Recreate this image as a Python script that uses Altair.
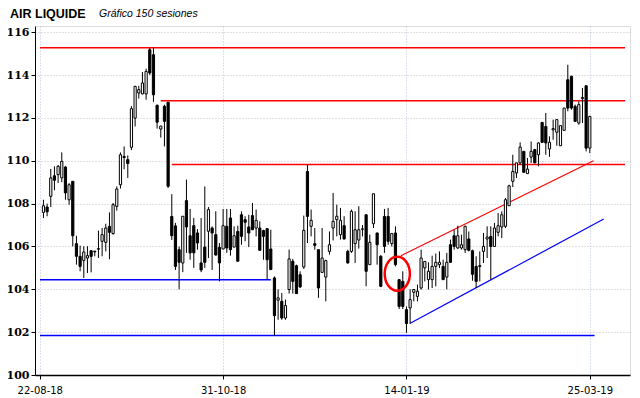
import altair as alt
import pandas as pd

# ---- OHLC (150 sessions) ----
opens = [107.59, 107.84, 108.34, 109.30, 109.35, 109.20, 109.71, 108.18, 109.04, 106.13,
         105.54, 105.35, 105.46, 105.80, 105.78, 105.87, 106.24, 106.19, 106.94, 106.60,
         107.87, 108.88, 110.20, 110.05, 110.63, 111.99, 113.16, 113.12, 113.12, 115.18,
         114.95, 112.59, 111.48, 112.54, 112.73, 107.40, 106.96, 105.85, 105.23, 108.14,
         106.50, 106.97, 106.63, 105.23, 105.97, 106.71, 106.86, 106.55, 105.96, 105.88,
         106.94, 107.33, 105.97, 106.70, 107.48, 107.25, 106.91, 107.44, 106.86, 106.86,
         106.74, 106.83, 105.88, 104.53, 103.49, 103.44, 102.66, 103.99, 105.31, 105.10,
         104.68, 105.04, 109.50, 106.94, 106.13, 105.85, 104.79, 104.57, 105.77, 106.86,
         107.25, 106.55, 106.97, 105.77, 105.77, 106.13, 106.30, 106.80, 107.48, 105.15,
         107.06, 106.63, 105.54, 107.40, 107.40, 106.13, 106.63, 104.45, 104.37, 103.05,
         103.13, 103.86, 103.67, 104.06, 105.00, 104.45, 104.45, 105.07, 105.15, 105.07,
         104.57, 106.08, 106.50, 105.93, 105.93, 105.85, 106.35, 105.80, 105.07, 105.10,
         105.77, 106.35, 106.47, 106.00, 106.66, 106.91, 106.94, 107.90, 109.04, 109.43,
         109.90, 110.44, 109.40, 110.17, 110.52, 110.28, 111.79, 111.60, 110.55, 111.44,
         111.33, 110.70, 111.42, 113.78, 113.94, 112.54, 111.76, 112.90, 113.50, 110.59]
highs = [108.18, 108.00, 109.62, 109.74, 109.80, 110.39, 109.74, 108.96, 109.04, 106.50,
         106.04, 106.01, 106.01, 105.82, 105.78, 106.74, 106.86, 107.06, 107.59, 108.03,
         108.80, 110.39, 110.67, 110.25, 112.55, 113.50, 113.50, 114.14, 114.30, 115.26,
         115.30, 112.62, 111.63, 112.62, 112.73, 108.44, 107.10, 106.00, 107.41, 109.12,
         107.75, 107.33, 106.81, 107.33, 108.80, 107.84, 106.94, 107.64, 106.16, 107.75,
         107.75, 107.75, 106.94, 106.97, 107.64, 107.41, 107.48, 108.03, 107.72, 107.17,
         106.78, 106.83, 106.78, 104.60, 104.00, 103.83, 103.52, 105.85, 105.42, 105.15,
         104.84, 107.44, 109.82, 107.72, 106.86, 105.85, 106.86, 105.38, 106.70, 108.50,
         107.95, 107.80, 107.41, 105.85, 107.72, 107.64, 107.88, 107.00, 107.48, 106.55,
         108.46, 106.63, 105.60, 107.75, 107.80, 106.63, 106.94, 104.45, 104.84, 103.20,
         104.00, 104.00, 104.22, 105.85, 105.30, 105.26, 105.57, 105.67, 105.77, 105.38,
         105.70, 106.32, 106.78, 106.97, 106.55, 106.97, 106.70, 105.85, 105.54, 105.77,
         106.63, 106.94, 106.94, 107.10, 107.56, 107.64, 108.26, 108.88, 110.28, 109.90,
         110.86, 110.44, 110.13, 110.90, 110.55, 110.86, 111.79, 112.23, 111.14, 111.92,
         111.92, 111.64, 112.46, 114.48, 113.97, 112.62, 112.77, 113.40, 113.50, 112.10]
lows = [107.33, 107.41, 107.84, 108.62, 108.96, 109.00, 108.18, 107.95, 106.00, 105.15,
        104.84, 104.53, 104.76, 104.79, 105.54, 105.46, 105.54, 105.77, 105.40, 106.55,
        107.67, 108.70, 109.60, 109.20, 110.50, 111.60, 112.90, 113.10, 112.85, 114.00,
        112.75, 111.50, 111.08, 110.67, 108.73, 106.30, 104.90, 104.00, 104.80, 105.70,
        105.38, 105.00, 105.85, 104.80, 105.00, 105.46, 104.90, 105.57, 104.37, 105.88,
        105.70, 105.57, 105.97, 105.31, 106.08, 106.24, 105.97, 106.78, 106.47, 105.82,
        105.38, 104.45, 104.92, 101.84, 102.58, 102.58, 102.58, 103.80, 103.80, 103.80,
        104.06, 104.95, 106.16, 106.47, 105.85, 103.60, 104.79, 103.44, 105.62, 106.28,
        106.47, 106.32, 106.32, 105.20, 105.70, 105.23, 105.90, 106.47, 104.14, 105.15,
        106.86, 105.15, 104.10, 105.70, 106.08, 106.00, 105.07, 103.08, 103.08, 101.97,
        102.40, 103.44, 103.44, 103.99, 104.37, 103.99, 104.06, 104.14, 104.99, 104.45,
        104.00, 105.23, 105.85, 105.88, 105.85, 105.70, 105.77, 104.40, 104.06, 104.37,
        105.23, 105.46, 104.45, 106.00, 106.47, 106.39, 106.86, 107.90, 108.77, 109.20,
        109.82, 109.46, 109.40, 109.90, 109.90, 109.74, 110.83, 110.28, 110.18, 110.98,
        110.70, 110.70, 111.42, 112.31, 112.38, 111.84, 111.68, 111.76, 110.44, 110.36]
closes = [107.90, 107.62, 109.20, 109.09, 109.74, 109.97, 108.50, 108.88, 106.50, 105.54,
          105.07, 105.74, 105.57, 105.54, 105.75, 105.90, 106.55, 106.86, 106.66, 107.95,
          108.68, 110.28, 110.15, 109.87, 112.43, 113.47, 113.32, 113.63, 114.17, 114.10,
          113.08, 111.80, 111.62, 111.84, 108.81, 106.50, 105.07, 105.26, 107.41, 106.91,
          105.70, 105.70, 106.16, 104.90, 105.26, 107.72, 106.63, 105.60, 105.23, 106.97,
          105.93, 105.85, 106.50, 105.31, 106.47, 107.13, 106.63, 106.78, 107.22, 105.82,
          106.47, 105.38, 104.92, 102.77, 103.60, 102.66, 103.24, 105.42, 104.37, 103.80,
          104.11, 106.75, 107.40, 107.22, 106.05, 104.06, 105.46, 105.34, 106.08, 107.17,
          107.41, 107.22, 106.35, 105.23, 107.64, 106.78, 106.78, 106.82, 104.84, 106.19,
          108.46, 106.08, 104.14, 106.00, 106.24, 106.60, 105.15, 103.20, 103.20, 102.40,
          103.52, 103.99, 103.91, 105.46, 105.30, 104.84, 105.07, 105.26, 105.26, 104.45,
          105.26, 105.26, 106.00, 106.50, 106.08, 106.94, 105.82, 104.70, 104.37, 105.07,
          106.00, 106.44, 106.00, 106.86, 106.97, 107.48, 108.18, 108.83, 109.50, 109.90,
          110.64, 109.46, 109.61, 110.44, 109.90, 110.83, 110.86, 110.83, 110.86, 111.50,
          111.92, 111.64, 112.46, 112.46, 112.46, 111.84, 112.62, 112.95, 110.59, 112.07]

# ---- axis labels ----
date_pos = [-1, 49, 99, 149]
date_labels = ["22-08-18", "31-10-18", "14-01-19", "25-03-19"]

# ---- horizontal support / resistance lines ----
lvl_price = [115.28, 112.80, 109.82, 104.45, 101.84]
lvl_start = [-0.94, 32.0, 35.0, -0.94, -0.94]
lvl_end = [158.6, 158.6, 158.6, 62.0, 150.3]
lvl_color = ["#ff0000", "#ff0000", "#ff0000", "#0000ff", "#0000ff"]

# ---- trend channel ----
tr_x1 = [97.5, 99.9]
tr_y1 = [105.57, 102.40]
tr_x2 = [150.0, 152.8]
tr_y2 = [110.00, 107.28]
tr_color = ["#ff0000", "#0000ff"]

# ---- highlight ellipse ----
circ_x = [96.5]
circ_y = [104.73]

XDOM = [-0.94, 158.6]
YDOM = [100, 116.29]

df = pd.DataFrame({"idx": list(range(len(opens))), "open": opens, "high": highs,
                   "low": lows, "close": closes})
lv = pd.DataFrame({"p": lvl_price, "s": lvl_start, "e": lvl_end, "c": lvl_color})
tr = pd.DataFrame({"x1": tr_x1, "y1": tr_y1, "x2": tr_x2, "y2": tr_y2, "c": tr_color})
ci = pd.DataFrame({"x": circ_x, "y": circ_y})

label_expr = " : ".join(
    f"datum.value == {p} ? '{l}'" for p, l in zip(date_pos, date_labels)) + " : ''"

xscale = alt.Scale(domain=XDOM, nice=False, zero=False)
yscale = alt.Scale(domain=YDOM, nice=False, zero=False)

yvals = [100 + 0.5 * k for k in range(33)]

xaxis = alt.Axis(values=date_pos, labelExpr=label_expr, title=None, grid=True,
                 gridDash=[1, 2], gridColor="#b4c4dc", domainColor="black",
                 domainWidth=1.5, tickColor="black", tickSize=4, labelPadding=6,
                 labelFont="DejaVu Sans", labelFontSize=10, labelColor="black")
yaxis = alt.Axis(values=yvals, title=None, grid=True, gridDash=[1, 2],
                 gridColor="#c8bccc",
                 gridOpacity={"condition": {"test": "datum.value % 2 == 0 && datum.value > 100",
                                            "value": 1}, "value": 0},
                 tickSize={"condition": {"test": "datum.value % 2 == 0", "value": 4},
                           "value": 2},
                 labelExpr="datum.value % 2 == 0 ? format(datum.value, 'd') : ''",
                 domainColor="black", tickColor="black", labelPadding=2,
                 labelFont="DejaVu Serif", labelFontWeight="bold", labelFontSize=11,
                 labelColor="black")

wicks = alt.Chart(df).mark_rule(color="black", strokeWidth=1).encode(
    x=alt.X("idx:Q", scale=xscale, axis=xaxis),
    y=alt.Y("low:Q", scale=yscale, axis=yaxis),
    y2="high:Q",
)

bodies = alt.Chart(df).mark_bar(size=2.2, stroke="black", strokeWidth=1).encode(
    x=alt.X("idx:Q", scale=xscale),
    y=alt.Y("open:Q", scale=yscale),
    y2="close:Q",
    fill=alt.condition("datum.close >= datum.open", alt.value("white"), alt.value("black")),
)

levels = alt.Chart(lv).mark_rule(strokeWidth=1.5).encode(
    x=alt.X("s:Q", scale=xscale),
    x2="e:Q",
    y=alt.Y("p:Q", scale=yscale),
    color=alt.Color("c:N", scale=None),
)

trends = alt.Chart(tr).mark_rule(strokeWidth=1.2).encode(
    x=alt.X("x1:Q", scale=xscale),
    x2="x2:Q",
    y=alt.Y("y1:Q", scale=yscale),
    y2="y2:Q",
    color=alt.Color("c:N", scale=None),
)

ellipse = alt.Chart(ci).mark_point(
    shape="M -0.74 0 A 0.74 1 0 1 0 0.74 0 A 0.74 1 0 1 0 -0.74 0 Z",
    size=1156, filled=False, stroke="#ff0000", strokeWidth=2.5, opacity=1,
).encode(
    x=alt.X("x:Q", scale=xscale),
    y=alt.Y("y:Q", scale=yscale),
)

title1 = alt.Chart(pd.DataFrame({"t": ["AIR LIQUIDE"]})).mark_text(
    align="left", baseline="middle", font="Liberation Sans", fontWeight="bold",
    fontSize=12.5, color="black",
).encode(text="t:N", x=alt.value(-25), y=alt.value(-12.5))

title2 = alt.Chart(pd.DataFrame({"t": ["Gráfico 150 sesiones"]})).mark_text(
    align="left", baseline="middle", font="Liberation Sans", fontStyle="italic",
    fontSize=10.5, color="black",
).encode(text="t:N", x=alt.value(64), y=alt.value(-12))

chart = alt.layer(levels, trends, wicks, bodies, ellipse, title1, title2).properties(
    width=595, height=349, autosize="none",
    padding={"left": 27, "top": 18, "right": 2, "bottom": 22},
).configure_view(stroke=None).configure(background="white")

chart.save("out.html", embed_options={"renderer": "svg", "actions": False})
